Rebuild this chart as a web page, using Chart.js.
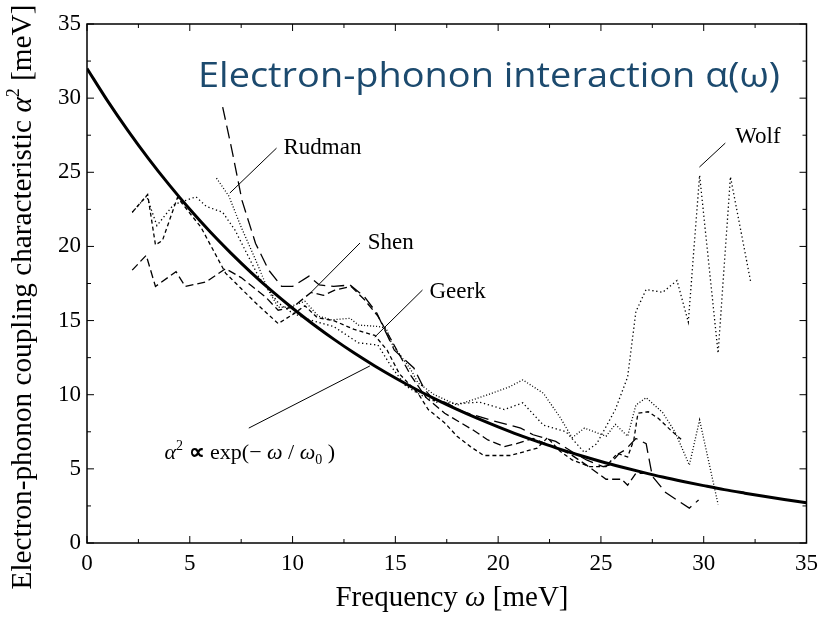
<!DOCTYPE html>
<html>
<head>
<meta charset="utf-8">
<script src="https://cdn.jsdelivr.net/npm/chart.js@4"></script>
<style>
  html, body { margin: 0; padding: 0; background: #fff; }
  #wrap { width: 825px; height: 617px; position: relative; }
</style>
</head>
<body>
<div id="wrap"><canvas id="phononChart"></canvas></div>
<script>
// ===== data =====
const tickValues = [0, 5, 10, 15, 20, 25, 30, 35];

// smooth fit  alpha^2 ~ exp(-w/w0)
const fitX = [0, 1, 2, 3, 4, 5, 6, 7, 8, 9, 10, 11, 12, 13, 14, 15, 16, 17, 18, 19, 20, 21, 22, 23, 24, 25, 26, 27, 28, 29, 30, 31, 32, 33, 34, 35];
const fitY = [32.0, 29.82, 27.8, 25.91, 24.15, 22.5, 20.97, 19.55, 18.22, 16.98, 15.83, 14.75, 13.75, 12.81, 11.94, 11.13, 10.37, 9.67, 9.01, 8.4, 7.83, 7.29, 6.8, 6.33, 5.9, 5.5, 5.13, 4.78, 4.45, 4.15, 3.87, 3.6, 3.36, 3.13, 2.92, 2.72];

// Rudman (fine dots)
const rudmanX = [6.3, 6.9, 7.5, 8.2, 8.8, 9.3, 9.8, 10.6, 11.25, 11.9, 12.8, 13.2, 14.15, 14.55, 14.8, 15.75, 16.1, 16.9, 18.0, 19.5, 20.5, 21.2, 22.2, 23.0, 23.6, 24.2, 25.25, 25.7, 26.3, 26.7, 27.2, 28.0, 28.6, 29.3, 29.8, 30.7];
const rudmanY = [24.6, 23.4, 21.3, 19.1, 17.1, 15.9, 15.9, 16.3, 15.3, 15.05, 15.15, 14.7, 14.6, 14.5, 13.5, 11.7, 10.8, 10.0, 9.3, 10.0, 10.5, 11.0, 10.1, 8.5, 7.1, 7.75, 7.2, 8.0, 7.2, 9.3, 9.8, 8.8, 7.5, 5.25, 8.3, 2.6];

// Wolf (dots)
const wolfX = [2.2, 2.9, 3.4, 4.2, 5.3, 5.8, 6.6, 7.2, 8.35, 9.3, 9.9, 10.5, 11.2, 12.0, 13.2, 14.15, 14.8, 15.5, 16.2, 17.0, 18.0, 19.1, 20.3, 21.2, 22.2, 23.3, 24.2, 24.8, 25.7, 26.3, 26.7, 27.2, 28.0, 28.7, 29.25, 29.8, 30.7, 31.3, 32.3];
const wolfY = [22.3, 23.4, 21.4, 22.8, 23.35, 22.7, 22.3, 21.1, 17.95, 16.2, 15.6, 15.2, 14.9, 14.6, 13.5, 13.35, 11.9, 10.6, 10.0, 9.5, 9.4, 9.5, 9.0, 9.45, 7.95, 7.5, 6.1, 6.7, 9.0, 11.2, 15.6, 17.1, 16.9, 17.7, 14.9, 24.8, 12.8, 24.7, 17.5];

// Shen (medium dashes)
const shenX = [2.2, 2.88, 3.33, 4.33, 4.78, 5.78, 6.74, 7.5, 8.68, 9.3, 10.0, 10.9, 11.5, 12.05, 12.85, 13.5, 14.15, 14.8, 15.75, 16.5, 17.4, 18.8, 19.5, 20.3, 20.9, 21.7, 22.5, 23.5, 24.3, 25.25, 26.0, 26.3, 26.7, 27.3];
const shenY = [18.4, 19.4, 17.3, 18.3, 17.3, 17.6, 18.5, 17.9, 16.6, 15.7, 15.9, 16.9, 16.7, 17.05, 17.3, 16.4, 15.3, 13.7, 11.3, 9.8, 8.75, 7.6, 6.95, 6.5, 6.7, 7.05, 6.6, 6.0, 5.25, 4.3, 4.3, 3.9, 4.7, 4.7];

// Geerk (short dashes)
const geerkX = [2.2, 2.95, 3.33, 3.67, 4.4, 5.54, 6.74, 8.2, 9.3, 10.0, 10.6, 11.2, 12.0, 13.0, 14.0, 14.6, 15.2, 16.1, 16.6, 17.4, 18.0, 18.65, 19.3, 20.6, 21.9, 22.4, 23.0, 23.6, 24.45, 25.25, 25.8, 26.3, 26.6, 26.8, 27.3, 27.8, 28.4, 28.9];
const geerkY = [22.3, 23.5, 20.1, 20.4, 23.3, 21.3, 18.2, 16.2, 14.8, 15.4, 16.0, 15.2, 15.0, 14.4, 14.0, 13.0, 11.4, 10.1, 9.0, 8.1, 7.2, 6.5, 5.9, 5.9, 6.4, 7.1, 6.2, 5.6, 5.15, 5.15, 6.05, 5.8, 6.95, 8.75, 8.85, 8.4, 7.6, 7.0];

// long dashes starting high
const longX = [6.6, 7.05, 7.54, 8.2, 8.84, 9.47, 10.0, 10.8, 11.3, 12.0, 12.8, 13.5, 14.1, 14.95, 15.9, 16.4, 16.9, 17.4, 18.3, 19.6, 21.1, 21.7, 22.8, 23.6, 24.3, 25.1, 25.4, 25.9, 26.2, 26.7, 27.2, 27.5, 28.15, 29.3, 29.75];
const longY = [29.4, 26.5, 23.1, 20.2, 18.4, 17.3, 17.3, 18.0, 17.4, 17.3, 17.4, 16.6, 15.5, 13.0, 11.8, 10.4, 9.6, 9.5, 8.85, 8.3, 7.75, 7.3, 6.85, 6.15, 5.6, 5.15, 5.25, 6.05, 6.3, 7.05, 6.7, 4.5, 3.4, 2.35, 2.9];

const pts = (xs, ys) => xs.map((x, i) => ({ x: x, y: ys[i] }));

// ===== helpers for text =====
function drawRuns(ctx, x, y, runs) {
    // runs: [text, font, dy]
    let cx = x;
    runs.forEach(r => {
        ctx.font = r[1];
        ctx.fillText(r[0], cx, y + (r[2] || 0));
        cx += ctx.measureText(r[0]).width;
    });
    return cx - x;
}
function runsWidth(ctx, runs) {
    let w = 0;
    runs.forEach(r => { ctx.font = r[1]; w += ctx.measureText(r[0]).width; });
    return w;
}

// frame with inward ticks on all four sides
const framePlugin = {
    id: 'frame',
    afterDatasetsDraw(chart) {
        const { ctx, chartArea: a, scales: { x, y } } = chart;
        ctx.save();
        ctx.strokeStyle = '#000';
        ctx.lineWidth = 1.5;
        ctx.strokeRect(a.left, a.top, a.right - a.left, a.bottom - a.top);
        ctx.lineWidth = 1;
        for (let v = 0; v <= 35; v += 2.5) {
            const len = (v % 5 === 0) ? 7 : 4;
            const px = x.getPixelForValue(v);
            const py = y.getPixelForValue(v);
            ctx.beginPath();
            ctx.moveTo(px, a.bottom); ctx.lineTo(px, a.bottom - len);
            ctx.moveTo(px, a.top); ctx.lineTo(px, a.top + len);
            ctx.moveTo(a.left, py); ctx.lineTo(a.left + len, py);
            ctx.moveTo(a.right, py); ctx.lineTo(a.right - len, py);
            ctx.stroke();
        }
        ctx.restore();
    }
};

// labels, leader lines, titles
const notesPlugin = {
    id: 'notes',
    afterDraw(chart) {
        const { ctx, scales: { x, y } } = chart;
        const X = v => x.getPixelForValue(v), Y = v => y.getPixelForValue(v);
        const serif = '"Liberation Serif", "Times New Roman", serif';
        ctx.save();
        ctx.fillStyle = '#000';
        ctx.strokeStyle = '#000';
        ctx.lineWidth = 1;

        // leader lines
        const leaders = [
            [9.22, 26.63, 6.95, 23.6],   // Rudman
            [13.28, 20.23, 10.91, 16.92], // Shen
            [16.32, 17.06, 14.0, 13.89],  // Geerk
            [7.87, 7.75, 13.76, 11.94],   // formula
            [31.05, 26.97, 29.79, 25.35]  // Wolf
        ];
        leaders.forEach(l => {
            ctx.beginPath();
            ctx.moveTo(X(l[0]), Y(l[1]));
            ctx.lineTo(X(l[2]), Y(l[3]));
            ctx.stroke();
        });

        ctx.textBaseline = 'middle';
        ctx.textAlign = 'left';
        ctx.font = '23px ' + serif;
        ctx.fillText('Rudman', X(9.56), Y(26.63));
        ctx.fillText('Shen', X(13.66), Y(20.23));
        ctx.fillText('Geerk', X(16.66), Y(16.93));
        ctx.fillText('Wolf', X(31.53), Y(27.38));

        // formula
        const f = '22px ' + serif, fi = 'italic 22px ' + serif, fs = '14px ' + serif;
        ctx.textBaseline = 'alphabetic';
        drawRuns(ctx, X(3.77), Y(6.14) + 7, [
            ['α', fi, 0], ['2', fs, -9], [' ', f, 0], ['∝', 'bold 22px ' + serif, 0],
            [' exp(− ', f, 0], ['ω', fi, 0], [' / ', f, 0], ['ω', fi, 0], ['0', fs, 5], [' )', f, 0]
        ]);

        // x axis title
        let xs = 29;
        const xRuns = s => [['Frequency ', s + 'px ' + serif], ['ω', 'italic ' + s + 'px ' + serif], [' [meV]', s + 'px ' + serif]];
        const xw = runsWidth(ctx, xRuns(xs));
        drawRuns(ctx, 452 - xw / 2, 606, xRuns(xs));

        // y axis title (rotated)
        const yRuns = s => [
            ['Electron-phonon coupling characteristic ', s + 'px ' + serif],
            ['α', 'italic ' + s + 'px ' + serif],
            ['2', Math.round(s * 0.62) + 'px ' + serif, -s * 0.42],
            [' [meV]', s + 'px ' + serif]
        ];
        let ys = 28;
        ys = ys * 585 / runsWidth(ctx, yRuns(ys));
        const yw = runsWidth(ctx, yRuns(ys));
        ctx.save();
        ctx.translate(31, 297);
        ctx.rotate(-Math.PI / 2);
        drawRuns(ctx, -yw / 2, 0, yRuns(ys));
        ctx.restore();

        // slide title
        const sans = '"Open Sans", "Noto Sans", sans-serif';
        ctx.fillStyle = '#1c4a6e';
        ctx.font = '34px ' + sans;
        const tt = 'Electron-phonon interaction α(ω)';
        const tw = ctx.measureText(tt).width;
        ctx.save();
        ctx.translate(198, 87);
        ctx.scale(582 / tw, 1);
        ctx.fillText(tt, 0, 0);
        ctx.restore();

        ctx.restore();
    }
};

const thin = 1.3;
const series = (data, dash, width) => ({
    data: data,
    showLine: true,
    borderColor: '#000',
    backgroundColor: '#000',
    borderWidth: width || thin,
    borderDash: dash,
    borderCapStyle: 'butt',
    pointRadius: 0,
    tension: 0
});

const fitSet = series(pts(fitX, fitY), [], 3);
fitSet.cubicInterpolationMode = 'monotone';

const ctx = document.getElementById('phononChart').getContext('2d');
new Chart(ctx, {
    type: 'scatter',
    data: {
        datasets: [
            fitSet,
            series(pts(rudmanX, rudmanY), [1, 2]),
            series(pts(wolfX, wolfY), [1.3, 2.7]),
            series(pts(shenX, shenY), [8, 4]),
            series(pts(geerkX, geerkY), [4, 3]),
            series(pts(longX, longY), [13, 6])
        ]
    },
    options: {
        responsive: true,
        maintainAspectRatio: false,
        animation: false,
        events: [],
        layout: { padding: { top: 24, right: 13, left: 0, bottom: 0 } },
        plugins: { legend: { display: false }, tooltip: { enabled: false } },
        scales: {
            x: {
                type: 'linear', min: 0, max: 35,
                grid: { display: false, drawTicks: false },
                border: { display: false },
                afterBuildTicks: s => { s.ticks = tickValues.map(v => ({ value: v })); },
                afterFit: s => { s.height = 74; },
                ticks: { color: '#000', padding: 7, maxRotation: 0, font: { family: '"Liberation Serif", serif', size: 23 } }
            },
            y: {
                type: 'linear', min: 0, max: 35,
                grid: { display: false, drawTicks: false },
                border: { display: false },
                afterBuildTicks: s => { s.ticks = tickValues.map(v => ({ value: v })); },
                afterFit: s => { s.width = 87; },
                ticks: { color: '#000', padding: 6, font: { family: '"Liberation Serif", serif', size: 23 } }
            }
        }
    },
    plugins: [framePlugin, notesPlugin]
});
</script>
</body>
</html>
